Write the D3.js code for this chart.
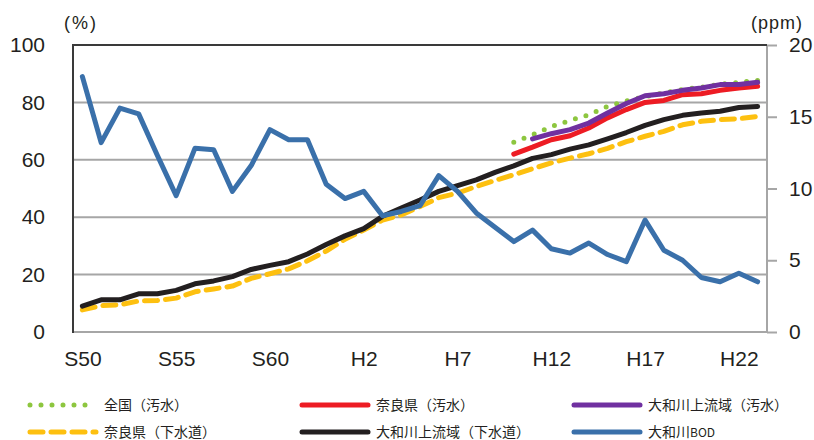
<!DOCTYPE html>
<html><head><meta charset="utf-8">
<script src="https://cdn.jsdelivr.net/npm/d3@7/dist/d3.min.js"></script>
<style>
html,body{margin:0;padding:0;background:#fff;}
svg{display:block;}
.tick text{font-family:"Liberation Sans",Arial,sans-serif;}
.jp{font-family:"Noto Sans CJK JP",sans-serif;}
.unit{font-family:"Liberation Sans",Arial,sans-serif;}
</style></head>
<body>
<svg id="chart" width="814" height="440"></svg>
<script>
// categories: S50 (1975) .. H23 (2011)
const categories = [
  "S50","S51","S52","S53","S54","S55","S56","S57","S58","S59","S60","S61","S62","S63",
  "H1","H2","H3","H4","H5","H6","H7","H8","H9","H10","H11","H12","H13","H14","H15",
  "H16","H17","H18","H19","H20","H21","H22","H23"];
const tickLabels = ["S50","S55","S60","H2","H7","H12","H17","H22"];
const leftTicks = [0,20,40,60,80,100];
const rightTicks = [0,5,10,15,20];

// 全国（汚水） % (from H10)
const zenkokuOsui = [null,null,null,null,null,null,null,null,null,null,null,null,null,null,
  null,null,null,null,null,null,null,null,null,
  66.1,68.7,71.6,73.7,75.7,78.6,80.5,82.0,83.3,84.5,85.3,86.3,87.0,87.6];
// 奈良県（汚水） %
const naraOsui = [null,null,null,null,null,null,null,null,null,null,null,null,null,null,
  null,null,null,null,null,null,null,null,null,
  62.0,64.4,67.0,68.4,71.1,74.6,77.5,80.0,80.7,82.7,83.0,84.2,85.0,85.6];
// 大和川上流域（汚水） %
const yamatoOsui = [null,null,null,null,null,null,null,null,null,null,null,null,null,null,
  null,null,null,null,null,null,null,null,null,null,
  67.3,69.1,70.5,72.8,76.3,79.6,82.3,83.0,84.2,85.0,86.2,86.2,87.0];
// 奈良県（下水道） %
const naraGesui = [7.7,9.2,9.5,10.8,11.0,11.8,14.0,15.0,16.0,18.7,20.3,22.0,24.8,28.2,
  32.3,35.5,39.0,40.8,43.7,46.8,48.4,50.7,52.8,54.8,56.9,58.9,60.6,62.1,64.0,
  66.3,68.2,69.9,72.2,73.4,74.0,74.3,75.1];
// 大和川上流域（下水道） %
const yamatoGesui = [9.0,11.2,11.2,13.3,13.3,14.5,16.8,17.8,19.3,21.8,23.2,24.5,27.2,30.5,
  33.5,36.0,40.3,43.2,46.0,49.0,51.0,53.0,55.6,57.9,60.5,61.8,63.7,65.2,67.3,
  69.5,72.0,74.0,75.5,76.3,76.9,78.2,78.6];
// 大和川BOD ppm
const yamatoBOD = [17.8,13.2,15.6,15.2,12.3,9.5,12.8,12.7,9.8,11.6,14.1,13.4,13.4,10.3,
  9.3,9.8,8.1,8.4,8.8,10.9,9.8,8.3,7.3,6.3,7.1,5.8,5.5,6.2,5.4,
  4.9,7.8,5.7,5.0,3.8,3.5,4.1,3.5];

const svg = d3.select("#chart");
const L = 73, R = 767, T = 45, B = 332;

const x = d3.scalePoint().domain(categories).range([L, R]).padding(0.5);
const yL = d3.scaleLinear().domain([0,100]).range([B, T]);
const yR = d3.scaleLinear().domain([0,20]).range([B, T]);

// gridlines
svg.append("g").selectAll("line").data([20,40,60,80]).join("line")
  .attr("x1", L).attr("x2", R).attr("y1", d=>yL(d)).attr("y2", d=>yL(d))
  .attr("stroke", "#a6a6a6").attr("stroke-width", 2);
// bottom axis line
svg.append("line").attr("x1", L).attr("x2", R).attr("y1", yL(0)).attr("y2", yL(0))
  .attr("stroke", "#a6a6a6").attr("stroke-width", 2);
// right axis line
svg.append("line").attr("x1", R).attr("x2", R).attr("y1", T).attr("y2", B)
  .attr("stroke", "#a6a6a6").attr("stroke-width", 2);
// top line
svg.append("line").attr("x1", L).attr("x2", R).attr("y1", yL(100)).attr("y2", yL(100))
  .attr("stroke", "#3a3a3a").attr("stroke-width", 2);
// left axis line
svg.append("line").attr("x1", L).attr("x2", L).attr("y1", T-1).attr("y2", B+1)
  .attr("stroke", "#3a3a3a").attr("stroke-width", 2);

// left axis
const gL = svg.append("g").attr("transform", `translate(${L},0)`)
  .call(d3.axisLeft(yL).tickValues(leftTicks).tickSize(0).tickPadding(28));
gL.select(".domain").remove();
gL.selectAll("text").attr("font-size", 21).attr("fill", "#231f20");

// right axis
const gR = svg.append("g").attr("transform", `translate(${R},0)`)
  .call(d3.axisRight(yR).tickValues(rightTicks).tickSize(10).tickPadding(12));
gR.select(".domain").remove();
gR.selectAll("line").attr("stroke", "#a6a6a6").attr("stroke-width", 2);
gR.selectAll("text").attr("font-size", 21).attr("fill", "#231f20");

// bottom axis
const gB = svg.append("g").attr("transform", `translate(0,${B})`)
  .call(d3.axisBottom(x).tickValues(tickLabels).tickSize(0).tickPadding(19));
gB.select(".domain").remove();
gB.selectAll("text").attr("font-size", 21).attr("fill", "#231f20");

// unit labels
svg.append("text").attr("class","unit").attr("x", 81).attr("y", 29).attr("text-anchor","middle")
  .attr("font-size", 18).attr("letter-spacing", 2).attr("fill", "#231f20").text("(%)");
svg.append("text").attr("class","unit").attr("x", 777).attr("y", 29).attr("text-anchor","middle")
  .attr("font-size", 18).attr("letter-spacing", 1).attr("fill", "#231f20").text("(ppm)");

const series = [
  {name:"全国（汚水）", data: zenkokuOsui, scale: yL, color:"#8dc63f", dash:"0 11", cap:"round", w:5},
  {name:"奈良県（汚水）", data: naraOsui, scale: yL, color:"#ed1c24", dash:null, cap:"round", w:5},
  {name:"大和川上流域（汚水）", data: yamatoOsui, scale: yL, color:"#7030a0", dash:null, cap:"round", w:5},
  {name:"奈良県（下水道）", data: naraGesui, scale: yL, color:"#fdc010", dash:"13 8", cap:"round", w:5},
  {name:"大和川上流域（下水道）", data: yamatoGesui, scale: yL, color:"#231f20", dash:null, cap:"round", w:5},
  {name:"大和川BOD", data: yamatoBOD, scale: yR, color:"#3a70aa", dash:null, cap:"round", w:5}
];

series.forEach(s => {
  const line = d3.line()
    .defined(d => d != null)
    .x((d,i) => x(categories[i]))
    .y(d => s.scale(d));
  svg.append("path")
    .datum(s.data)
    .attr("d", line)
    .attr("fill", "none")
    .attr("stroke", s.color)
    .attr("stroke-width", s.w)
    .attr("stroke-linecap", s.cap)
    .attr("stroke-linejoin", "round")
    .attr("stroke-dasharray", s.dash);
});

// legend
const legPos = [
  {x: 30, y: 405}, {x: 302, y: 405}, {x: 574, y: 405},
  {x: 30, y: 432}, {x: 302, y: 432}, {x: 574, y: 432}
];
series.forEach((s, i) => {
  const p = legPos[i];
  svg.append("line")
    .attr("x1", p.x).attr("x2", p.x + 66).attr("y1", p.y).attr("y2", p.y)
    .attr("stroke", s.color).attr("stroke-width", s.w)
    .attr("stroke-linecap", s.cap).attr("stroke-dasharray", s.dash);
  const t = svg.append("text").attr("class","jp")
    .attr("x", p.x + 74).attr("y", p.y + 5)
    .attr("font-size", 14).attr("fill", "#231f20");
  if (s.name === "大和川BOD") {
    t.append("tspan").text("大和川");
    t.append("tspan").attr("font-size", 12).text("BOD");
  } else {
    t.text(s.name);
  }
});
</script>
</body></html>
